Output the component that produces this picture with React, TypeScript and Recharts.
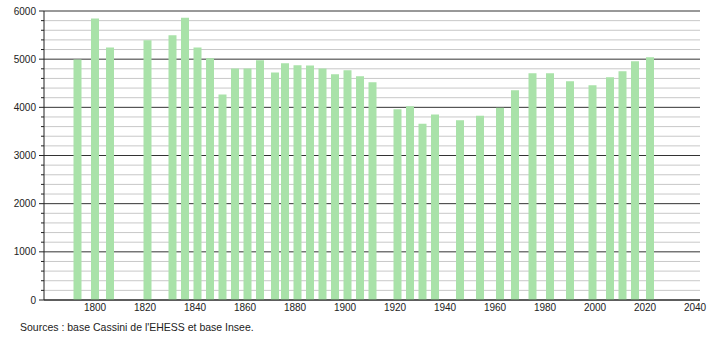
import React from 'react';
import { BarChart, Bar, XAxis, YAxis, CartesianGrid } from 'recharts';

const years = [
  1793, 1800, 1806, 1821, 1831, 1836, 1841, 1846, 1851, 1856,
  1861, 1866, 1872, 1876, 1881, 1886, 1891, 1896, 1901, 1906,
  1911, 1921, 1926, 1931, 1936, 1946, 1954, 1962, 1968, 1975,
  1982, 1990, 1999, 2006, 2011, 2016, 2022,
];

const population = [
  4992, 5842, 5240, 5392, 5496, 5862, 5240, 5019, 4265, 4804,
  4804, 4977, 4722, 4915, 4873, 4866, 4804, 4687, 4770, 4645,
  4521, 3961, 4023, 3657, 3850, 3733, 3823, 3989, 4355, 4708,
  4708, 4542, 4459, 4625, 4749, 4956, 5039,
];

const xTicks = [1800, 1820, 1840, 1860, 1880, 1900, 1920, 1940, 1960, 1980, 2000, 2020, 2040];
const yTicks = [0, 1000, 2000, 3000, 4000, 5000, 6000];
const yMinorTicks = [
  200, 400, 600, 800, 1200, 1400, 1600, 1800, 2200, 2400, 2600, 2800,
  3200, 3400, 3600, 3800, 4200, 4400, 4600, 4800, 5200, 5400, 5600, 5800,
];
const yAllTicks = [...yTicks, ...yMinorTicks].sort((a, b) => a - b);

const data = years.map((year, i) => ({ year, pop: population[i] }));

const FONT = '"Liberation Sans", Arial, sans-serif';

// y ticks: long tick + label on thousands, short tick only in between
const YTick = (props: any) => {
  const { x, y, payload } = props;
  const major = payload.value % 1000 === 0;
  return (
    <g>
      <line x1={x - (major ? 5 : 3)} x2={x} y1={y} y2={y} stroke="#222" />
      {major && (
        <text x={x - 8} y={y} dy="0.35em" textAnchor="end" fontSize={10} fill="#222" fontFamily={FONT}>
          {payload.value}
        </text>
      )}
    </g>
  );
};

export default function App() {
  return (
    <div style={{ position: 'absolute', left: 0, top: 0, width: 710, height: 340, background: '#fff', fontFamily: FONT }}>
      <BarChart
        width={710}
        height={340}
        data={data}
        margin={{ top: 11, right: 10, bottom: 10, left: 0 }}
      >
        <CartesianGrid
          vertical={false}
          horizontalValues={yMinorTicks}
          stroke="#c8c8c8"
          strokeWidth={1}
        />
        <CartesianGrid
          vertical={false}
          horizontalValues={yTicks}
          stroke="#333"
          strokeWidth={1}
        />
        <XAxis
          dataKey="year"
          type="number"
          domain={[1779.6, 2042]}
          ticks={xTicks}
          allowDataOverflow
          height={30}
          tickLine={false}
          tickSize={0}
          tickMargin={4}
          axisLine={{ stroke: '#222' }}
          tick={{ fill: '#222', fontSize: 10, fontFamily: FONT }}
        />
        <YAxis
          domain={[0, 6000]}
          ticks={yAllTicks}
          interval={0}
          width={44}
          tickSize={0}
          tickMargin={0}
          axisLine={{ stroke: '#222' }}
          tickLine={false}
          tick={<YTick />}
        />
        <Bar dataKey="pop" fill="#a9e2a9" barSize={8} isAnimationActive={false} />
      </BarChart>
      <div style={{ position: 'absolute', left: 20, top: 321, fontSize: 10.5, color: '#222' }}>
        Sources : base Cassini de l'EHESS et base Insee.
      </div>
    </div>
  );
}
